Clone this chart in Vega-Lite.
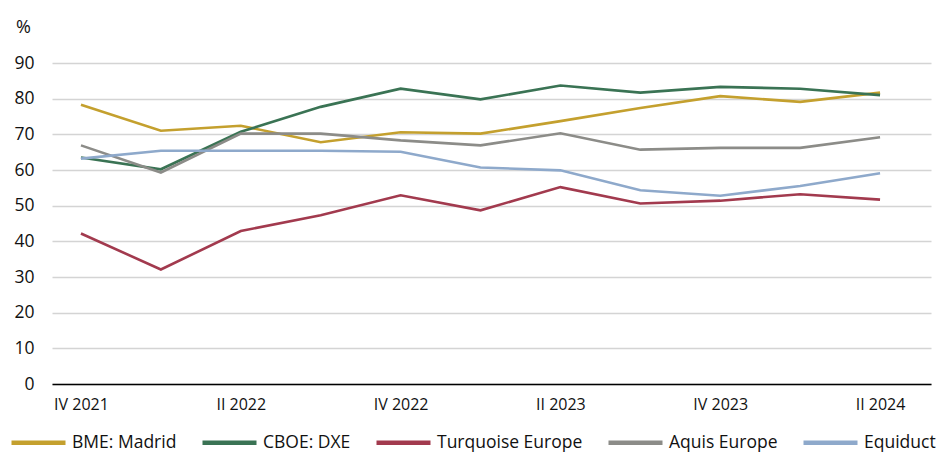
{
  "$schema": "https://vega.github.io/schema/vega-lite/v6.json",
  "width": 879,
  "height": 321,
  "autosize": {"type": "none"},
  "padding": {"left": 52, "top": 63, "right": 10, "bottom": 70},
  "background": "white",
  "config": {
    "view": {"stroke": null},
    "font": "Open Sans"
  },
  "data": {
    "values": [
      {"q": "IV 2021", "s": "BME: Madrid", "v": 78.3},
      {"q": "I 2022", "s": "BME: Madrid", "v": 71.0},
      {"q": "II 2022", "s": "BME: Madrid", "v": 72.4},
      {"q": "III 2022", "s": "BME: Madrid", "v": 67.8},
      {"q": "IV 2022", "s": "BME: Madrid", "v": 70.6},
      {"q": "I 2023", "s": "BME: Madrid", "v": 70.2},
      {"q": "II 2023", "s": "BME: Madrid", "v": 73.7},
      {"q": "III 2023", "s": "BME: Madrid", "v": 77.4},
      {"q": "IV 2023", "s": "BME: Madrid", "v": 80.7},
      {"q": "I 2024", "s": "BME: Madrid", "v": 79.1},
      {"q": "II 2024", "s": "BME: Madrid", "v": 81.7},

      {"q": "IV 2021", "s": "CBOE: DXE", "v": 63.5},
      {"q": "I 2022", "s": "CBOE: DXE", "v": 60.2},
      {"q": "II 2022", "s": "CBOE: DXE", "v": 70.7},
      {"q": "III 2022", "s": "CBOE: DXE", "v": 77.7},
      {"q": "IV 2022", "s": "CBOE: DXE", "v": 82.8},
      {"q": "I 2023", "s": "CBOE: DXE", "v": 79.8},
      {"q": "II 2023", "s": "CBOE: DXE", "v": 83.7},
      {"q": "III 2023", "s": "CBOE: DXE", "v": 81.7},
      {"q": "IV 2023", "s": "CBOE: DXE", "v": 83.3},
      {"q": "I 2024", "s": "CBOE: DXE", "v": 82.8},
      {"q": "II 2024", "s": "CBOE: DXE", "v": 81.0},

      {"q": "IV 2021", "s": "Turquoise Europe", "v": 42.2},
      {"q": "I 2022", "s": "Turquoise Europe", "v": 32.1},
      {"q": "II 2022", "s": "Turquoise Europe", "v": 42.9},
      {"q": "III 2022", "s": "Turquoise Europe", "v": 47.3},
      {"q": "IV 2022", "s": "Turquoise Europe", "v": 52.9},
      {"q": "I 2023", "s": "Turquoise Europe", "v": 48.7},
      {"q": "II 2023", "s": "Turquoise Europe", "v": 55.2},
      {"q": "III 2023", "s": "Turquoise Europe", "v": 50.6},
      {"q": "IV 2023", "s": "Turquoise Europe", "v": 51.4},
      {"q": "I 2024", "s": "Turquoise Europe", "v": 53.2},
      {"q": "II 2024", "s": "Turquoise Europe", "v": 51.7},

      {"q": "IV 2021", "s": "Aquis Europe", "v": 66.9},
      {"q": "I 2022", "s": "Aquis Europe", "v": 59.3},
      {"q": "II 2022", "s": "Aquis Europe", "v": 70.2},
      {"q": "III 2022", "s": "Aquis Europe", "v": 70.2},
      {"q": "IV 2022", "s": "Aquis Europe", "v": 68.3},
      {"q": "I 2023", "s": "Aquis Europe", "v": 66.9},
      {"q": "II 2023", "s": "Aquis Europe", "v": 70.3},
      {"q": "III 2023", "s": "Aquis Europe", "v": 65.7},
      {"q": "IV 2023", "s": "Aquis Europe", "v": 66.2},
      {"q": "I 2024", "s": "Aquis Europe", "v": 66.2},
      {"q": "II 2024", "s": "Aquis Europe", "v": 69.2},

      {"q": "IV 2021", "s": "Equiduct", "v": 63.2},
      {"q": "I 2022", "s": "Equiduct", "v": 65.4},
      {"q": "II 2022", "s": "Equiduct", "v": 65.4},
      {"q": "III 2022", "s": "Equiduct", "v": 65.4},
      {"q": "IV 2022", "s": "Equiduct", "v": 65.1},
      {"q": "I 2023", "s": "Equiduct", "v": 60.7},
      {"q": "II 2023", "s": "Equiduct", "v": 59.9},
      {"q": "III 2023", "s": "Equiduct", "v": 54.3},
      {"q": "IV 2023", "s": "Equiduct", "v": 52.8},
      {"q": "I 2024", "s": "Equiduct", "v": 55.5},
      {"q": "II 2024", "s": "Equiduct", "v": 59.1}
    ]
  },
  "mark": {"type": "line", "strokeWidth": 2.6, "strokeJoin": "miter"},
  "encoding": {
    "x": {
      "field": "q",
      "type": "ordinal",
      "scale": {
        "type": "point",
        "domain": ["IV 2021", "I 2022", "II 2022", "III 2022", "IV 2022", "I 2023", "II 2023", "III 2023", "IV 2023", "I 2024", "II 2024"],
        "padding": 0.5,
        "align": 0.3625
      },
      "axis": {
        "title": null,
        "grid": false,
        "ticks": false,
        "labelAngle": 0,
        "labelExpr": "indexof(['IV 2021','II 2022','IV 2022','II 2023','IV 2023','II 2024'], datum.value) >= 0 ? datum.value : ''",
        "labelFont": "Open Sans",
        "labelFontSize": 16,
        "labelColor": "#111111",
        "labelPadding": 12,
        "domainColor": "#000000",
        "domainWidth": 1.5
      }
    },
    "y": {
      "field": "v",
      "type": "quantitative",
      "scale": {"domain": [0, 90], "nice": false},
      "axis": {
        "title": "%",
        "titleAngle": 0,
        "titleX": -29,
        "titleY": -31,
        "titleAlign": "center",
        "titleBaseline": "alphabetic",
        "titleFont": "Open Sans",
        "titleFontSize": 18,
        "titleFontWeight": "normal",
        "titleColor": "#111111",
        "values": [0, 10, 20, 30, 40, 50, 60, 70, 80, 90],
        "domain": false,
        "ticks": false,
        "labelFont": "Open Sans",
        "labelFontSize": 17.5,
        "labelColor": "#111111",
        "labelPadding": 18,
        "gridColor": "#d4d4d4",
        "gridWidth": 1.3
      }
    },
    "color": {
      "field": "s",
      "type": "nominal",
      "scale": {
        "domain": ["BME: Madrid", "CBOE: DXE", "Turquoise Europe", "Aquis Europe", "Equiduct"],
        "range": ["#C4A02E", "#3A7354", "#A23A4E", "#8C8C88", "#8EA9CB"]
      },
      "legend": {
        "title": null,
        "orient": "none",
        "direction": "horizontal",
        "legendX": -43,
        "legendY": 350,
        "symbolType": "stroke",
        "symbolSize": 2916,
        "symbolStrokeWidth": 4.5,
        "labelFont": "Open Sans",
        "labelFontSize": 17.5,
        "labelColor": "#111111",
        "labelOffset": 4,
        "columnPadding": 16,
        "labelLimit": 300
      }
    }
  }
}
